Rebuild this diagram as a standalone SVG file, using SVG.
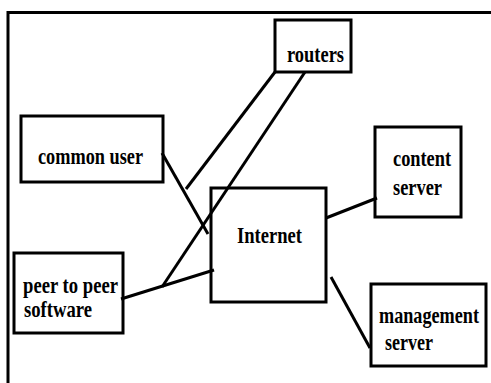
<svg xmlns="http://www.w3.org/2000/svg" width="491" height="383" viewBox="0 0 491 383">
<style>
.box{fill:none;stroke:#000;stroke-width:3}
.lbl{font-family:"Liberation Serif","Times New Roman",serif;font-weight:bold;font-size:24px;fill:#000}
.ln{stroke:#000;stroke-width:3;fill:none;stroke-linecap:butt}
</style>
<rect width="491" height="383" fill="#fff"/>
<g id="frame">
<path class="ln" d="M8,383 V12.5 H491"/>
</g>
<g id="connectors">
<line class="ln" x1="275" y1="72" x2="186" y2="189"/>
<line class="ln" x1="305" y1="72" x2="162" y2="287"/>
<line class="ln" x1="162" y1="153" x2="208" y2="234"/>
<line class="ln" x1="326" y1="218" x2="377" y2="198"/>
<line class="ln" x1="121" y1="299" x2="214" y2="270"/>
<line class="ln" x1="331" y1="277" x2="370" y2="348"/>
</g>
<g id="routers">
<rect class="box" x="275" y="20" width="76" height="52"/>
<text class="lbl" x="287" y="62" textLength="57" lengthAdjust="spacingAndGlyphs">routers</text>
</g>
<g id="common-user">
<rect class="box" x="21" y="116" width="142" height="66"/>
<text class="lbl" x="38" y="164" textLength="105" lengthAdjust="spacingAndGlyphs">common user</text>
</g>
<g id="content-server">
<rect class="box" x="375" y="127" width="86" height="90"/>
<text class="lbl" x="393" y="166" textLength="58" lengthAdjust="spacingAndGlyphs">content</text>
<text class="lbl" x="393" y="195" textLength="49" lengthAdjust="spacingAndGlyphs">server</text>
</g>
<g id="internet">
<rect class="box" x="211" y="188" width="115" height="114"/>
<text class="lbl" x="237" y="243" textLength="65" lengthAdjust="spacingAndGlyphs">Internet</text>
</g>
<g id="peer-to-peer-software">
<rect class="box" x="14" y="253" width="109" height="80"/>
<text class="lbl" x="23" y="293" textLength="95" lengthAdjust="spacingAndGlyphs">peer to peer</text>
<text class="lbl" x="24" y="317" textLength="68" lengthAdjust="spacingAndGlyphs">software</text>
</g>
<g id="management-server">
<rect class="box" x="371" y="284" width="115" height="82"/>
<text class="lbl" x="379" y="323" textLength="100" lengthAdjust="spacingAndGlyphs">management</text>
<text class="lbl" x="385" y="350" textLength="48" lengthAdjust="spacingAndGlyphs">server</text>
</g>
</svg>
